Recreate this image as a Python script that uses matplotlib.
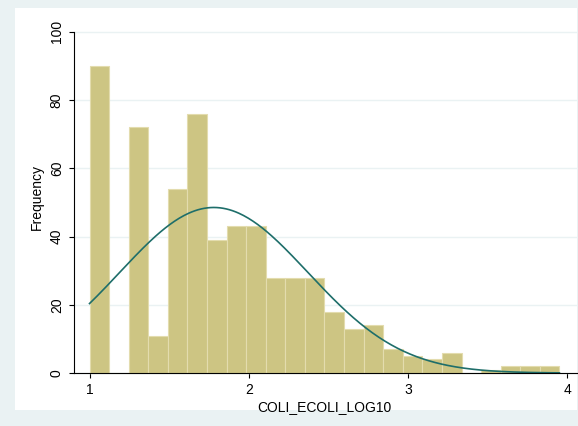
import numpy as np
import matplotlib.pyplot as plt

plt.rcParams['font.family'] = ['Liberation Sans', 'DejaVu Sans']

bin_start = 1.0
bin_width = 0.1229
counts = [90, 0, 72, 11, 54, 76, 39, 43, 43, 28, 28, 28,
          18, 13, 14, 7, 5, 4, 6, 0, 1, 2, 2, 2]
mu, sigma = 1.78, 0.592

W, H = 578, 426
fig = plt.figure(figsize=(W / 100, H / 100), dpi=100)
fig.patch.set_facecolor('#eaf2f3')
# white inner graph region
bg = fig.add_axes([15 / W, 1 - 410 / H, (577 - 15) / W, (410 - 8) / H])
bg.set_facecolor('white')
bg.set_xticks([])
bg.set_yticks([])
for s in bg.spines.values():
    s.set_visible(False)

ax = fig.add_axes([72 / W, 1 - 385 / H, (577 - 72) / W, (385 - 8) / H])
ax.set_facecolor('white')

edges = bin_start + bin_width * np.arange(len(counts))
ax.bar(edges, counts, width=bin_width, align='edge', color='#cdc583',
       edgecolor='#e3dcae', linewidth=0.8)

xs = np.linspace(1.0, edges[-1] + bin_width, 300)
n = sum(counts)
ys = n * bin_width / (sigma * np.sqrt(2 * np.pi)) * np.exp(-(xs - mu) ** 2 / (2 * sigma ** 2))
ax.plot(xs, ys, color='#1e6e6a', lw=1.2)

ax.set_xlim(0.89, 4.06)
ax.set_ylim(-3.5, 107)
for s in ['top', 'right']:
    ax.spines[s].set_visible(False)
ax.spines['left'].set_position(('data', 0.9))
ax.spines['left'].set_bounds(0, 100)
ax.spines['bottom'].set_position(('data', 0))
ax.spines['bottom'].set_bounds(0.9, 4.06)
ax.set_xticks([1, 2, 3, 4])
ax.set_yticks([0, 20, 40, 60, 80, 100])
ax.tick_params(axis='y', labelrotation=90, labelsize=10)
ax.tick_params(axis='x', labelsize=10)
for lab in ax.get_yticklabels():
    lab.set_va('center')
ax.grid(axis='y', color='#eaf2f3', lw=1)
ax.set_axisbelow(True)
ax.set_xlabel('COLI_ECOLI_LOG10', fontsize=10, labelpad=2)
ax.set_ylabel('Frequency', fontsize=10, labelpad=4)

fig.savefig('out.png', dpi=100, facecolor=fig.get_facecolor())
